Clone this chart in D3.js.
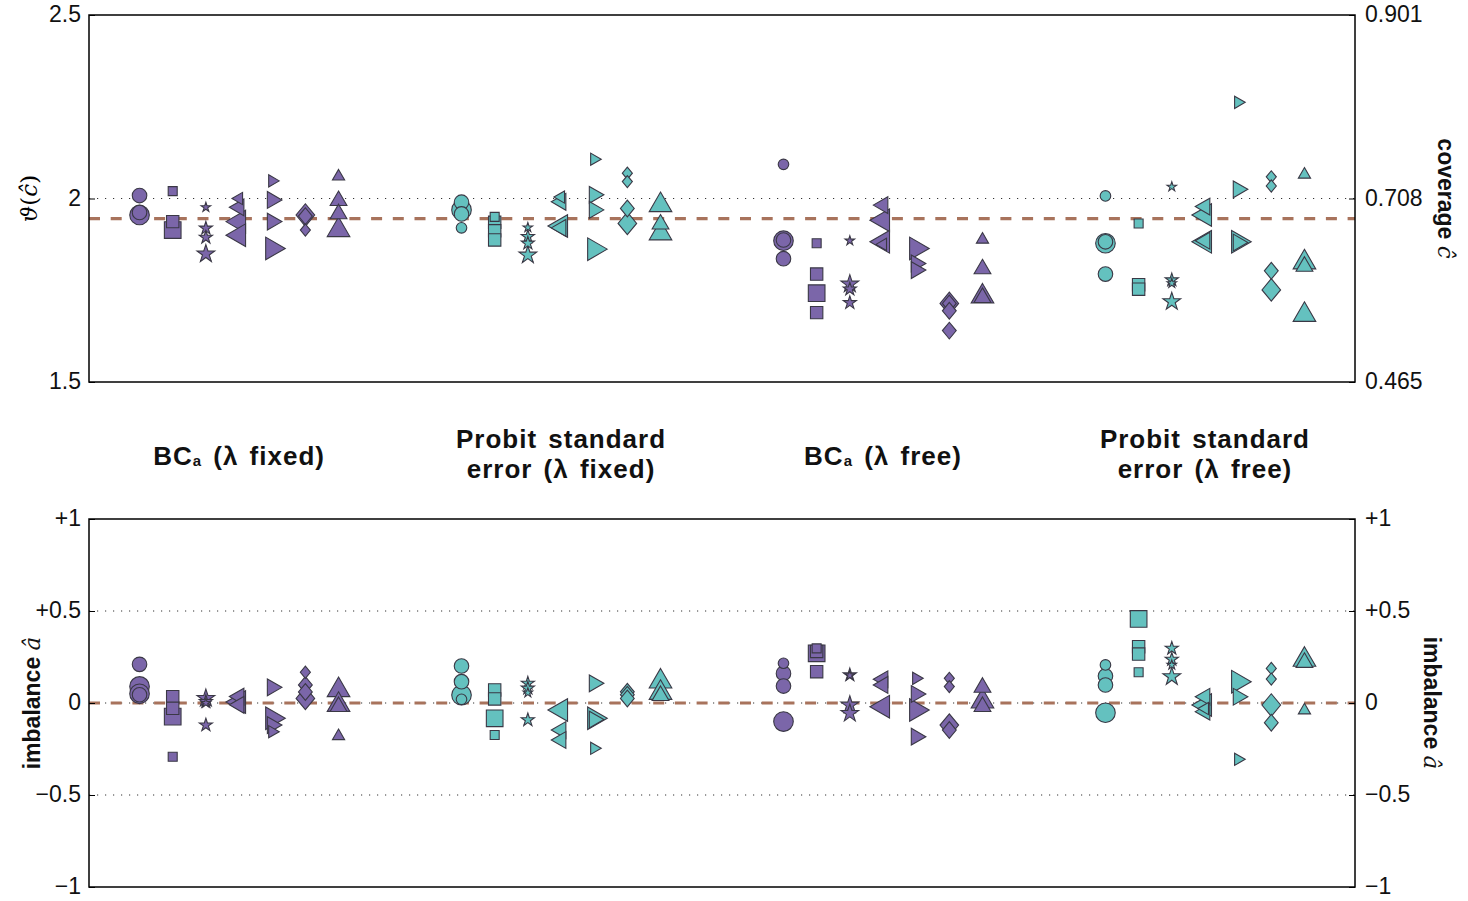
<!DOCTYPE html>
<html>
<head>
<meta charset="utf-8">
<script src="https://cdn.jsdelivr.net/npm/d3@7"></script>
<style>
  body { margin: 0; background: #fff; }
  .tick text { font-family: "Liberation Sans", sans-serif; font-size: 23px; fill: #111; }
  .title { font-family: "Liberation Sans", sans-serif; font-weight: bold; font-size: 26px; letter-spacing: 1px; word-spacing: 3px; fill: #111; }
  .axlabel { font-family: "Liberation Sans", sans-serif; font-weight: bold; font-size: 23px; fill: #111; }
</style>
</head>
<body>
<script>
// ----- data -----
const methods = ["BCa fixed", "Probit fixed", "BCa free", "Probit free"];
const shapes = ["circle", "square", "star", "triLeft", "triRight", "diamond", "triUp"];
const sizeClasses = ["s", "m", "l"];

// [shape, value, size class]  -- top panel, theta(c hat)
const thetaBcaFixed = [
  ["circle", 2.008, "m"], ["circle", 1.955, "l"], ["circle", 1.962, "m"],
  ["square", 2.02, "s"], ["square", 1.937, "m"], ["square", 1.914, "l"],
  ["star", 1.976, "s"], ["star", 1.919, "m"], ["star", 1.894, "m"], ["star", 1.849, "l"],
  ["triLeft", 2.0, "s"], ["triLeft", 1.976, "m"], ["triLeft", 1.937, "l"], ["triLeft", 1.90, "l"],
  ["triRight", 2.048, "s"], ["triRight", 1.996, "m"], ["triRight", 1.937, "m"], ["triRight", 1.864, "l"],
  ["diamond", 1.955, "l"], ["diamond", 1.952, "m"], ["diamond", 1.914, "s"],
  ["triUp", 2.06, "s"], ["triUp", 1.994, "m"], ["triUp", 1.958, "m"], ["triUp", 1.914, "l"]
];
const thetaProbitFixed = [
  ["circle", 1.990, "m"], ["circle", 1.969, "l"], ["circle", 1.958, "m"], ["circle", 1.920, "s"],
  ["square", 1.95, "s"], ["square", 1.935, "m"], ["square", 1.912, "m"], ["square", 1.887, "m"],
  ["star", 1.921, "s"], ["star", 1.896, "m"], ["star", 1.878, "m"], ["star", 1.846, "l"],
  ["triLeft", 2.004, "s"], ["triLeft", 1.991, "m"], ["triLeft", 1.925, "l"], ["triLeft", 1.92, "m"],
  ["triRight", 2.107, "s"], ["triRight", 2.010, "m"], ["triRight", 1.969, "m"], ["triRight", 1.862, "l"],
  ["diamond", 2.069, "s"], ["diamond", 2.046, "s"], ["diamond", 1.973, "m"], ["diamond", 1.932, "l"],
  ["triUp", 1.982, "l"], ["triUp", 1.93, "m"], ["triUp", 1.905, "l"]
];
const thetaBcaFree = [
  ["circle", 2.093, "s"], ["circle", 1.885, "l"], ["circle", 1.887, "m"], ["circle", 1.836, "m"],
  ["square", 1.878, "s"], ["square", 1.794, "m"], ["square", 1.742, "l"], ["square", 1.689, "m"],
  ["star", 1.885, "s"], ["star", 1.767, "l"], ["star", 1.753, "m"], ["star", 1.716, "m"],
  ["triLeft", 1.982, "m"], ["triLeft", 1.941, "l"], ["triLeft", 1.882, "l"], ["triLeft", 1.875, "s"],
  ["triRight", 1.864, "l"], ["triRight", 1.823, "m"], ["triRight", 1.805, "m"],
  ["diamond", 1.714, "l"], ["diamond", 1.714, "m"], ["diamond", 1.694, "m"], ["diamond", 1.640, "m"],
  ["triUp", 1.888, "s"], ["triUp", 1.808, "m"], ["triUp", 1.733, "l"], ["triUp", 1.73, "m"]
];
const thetaProbitFree = [
  ["circle", 2.007, "s"], ["circle", 1.878, "l"], ["circle", 1.882, "m"], ["circle", 1.794, "m"],
  ["square", 1.932, "s"], ["square", 1.765, "m"], ["square", 1.753, "m"],
  ["star", 2.032, "s"], ["star", 1.778, "m"], ["star", 1.769, "s"], ["star", 1.719, "l"],
  ["triLeft", 1.978, "m"], ["triLeft", 1.955, "l"], ["triLeft", 1.882, "l"], ["triLeft", 1.885, "m"],
  ["triRight", 2.262, "s"], ["triRight", 2.025, "m"], ["triRight", 1.882, "l"], ["triRight", 1.88, "m"],
  ["diamond", 2.059, "s"], ["diamond", 2.034, "s"], ["diamond", 1.803, "m"], ["diamond", 1.751, "l"],
  ["triUp", 2.065, "s"], ["triUp", 1.826, "l"], ["triUp", 1.815, "m"], ["triUp", 1.683, "l"]
];

// bottom panel, imbalance a hat
const imbBcaFixed = [
  ["circle", 0.21, "m"], ["circle", 0.09, "l"], ["circle", 0.05, "l"], ["circle", 0.045, "m"],
  ["square", 0.034, "m"], ["square", -0.029, "m"], ["square", -0.074, "l"], ["square", -0.292, "s"],
  ["star", 0.025, "l"], ["star", 0.007, "m"], ["star", 0.0, "s"], ["star", -0.12, "m"],
  ["triLeft", 0.035, "m"], ["triLeft", 0.005, "l"], ["triLeft", -0.01, "m"],
  ["triRight", 0.085, "m"], ["triRight", -0.083, "l"], ["triRight", -0.12, "m"], ["triRight", -0.156, "s"],
  ["diamond", 0.167, "s"], ["diamond", 0.098, "m"], ["diamond", 0.06, "m"], ["diamond", 0.025, "l"],
  ["triUp", 0.07, "l"], ["triUp", -0.01, "l"], ["triUp", -0.02, "m"], ["triUp", -0.18, "s"]
];
const imbProbitFixed = [
  ["circle", 0.201, "m"], ["circle", 0.116, "m"], ["circle", 0.043, "l"], ["circle", 0.02, "s"],
  ["square", 0.071, "m"], ["square", 0.022, "m"], ["square", -0.083, "l"], ["square", -0.174, "s"],
  ["star", 0.107, "m"], ["star", 0.080, "m"], ["star", 0.056, "s"], ["star", -0.092, "m"],
  ["triLeft", -0.038, "l"], ["triLeft", -0.147, "m"], ["triLeft", -0.201, "m"],
  ["triRight", 0.107, "m"], ["triRight", -0.083, "l"], ["triRight", -0.09, "m"], ["triRight", -0.246, "s"],
  ["diamond", 0.061, "m"], ["diamond", 0.045, "m"], ["diamond", 0.025, "m"],
  ["triUp", 0.117, "l"], ["triUp", 0.055, "l"], ["triUp", 0.04, "m"]
];
const imbBcaFree = [
  ["circle", 0.216, "s"], ["circle", 0.161, "m"], ["circle", 0.092, "m"], ["circle", -0.101, "l"],
  ["square", 0.297, "s"], ["square", 0.27, "l"], ["square", 0.28, "m"], ["square", 0.170, "m"],
  ["star", 0.152, "m"], ["star", 0.15, "s"], ["star", -0.011, "l"], ["star", -0.056, "l"],
  ["triLeft", 0.129, "m"], ["triLeft", 0.098, "m"], ["triLeft", -0.020, "l"],
  ["triRight", 0.134, "s"], ["triRight", 0.049, "m"], ["triRight", -0.038, "l"], ["triRight", -0.183, "m"],
  ["diamond", 0.134, "s"], ["diamond", 0.089, "s"], ["diamond", -0.120, "l"], ["diamond", -0.147, "m"],
  ["triUp", 0.085, "m"], ["triUp", 0.008, "l"], ["triUp", -0.02, "m"]
];
const imbProbitFree = [
  ["circle", 0.207, "s"], ["circle", 0.147, "m"], ["circle", 0.098, "m"], ["circle", -0.053, "l"],
  ["square", 0.457, "l"], ["square", 0.306, "m"], ["square", 0.266, "m"], ["square", 0.167, "s"],
  ["star", 0.297, "m"], ["star", 0.237, "m"], ["star", 0.207, "s"], ["star", 0.143, "l"],
  ["triLeft", 0.034, "m"], ["triLeft", -0.011, "l"], ["triLeft", -0.047, "m"], ["triLeft", -0.03, "s"],
  ["triRight", 0.116, "l"], ["triRight", 0.034, "m"], ["triRight", -0.306, "s"],
  ["diamond", 0.188, "s"], ["diamond", 0.130, "s"], ["diamond", -0.011, "l"], ["diamond", -0.107, "m"],
  ["triUp", 0.235, "l"], ["triUp", 0.22, "m"], ["triUp", -0.04, "s"]
];

const thetaSeries = [thetaBcaFixed, thetaProbitFixed, thetaBcaFree, thetaProbitFree];
const imbSeries = [imbBcaFixed, imbProbitFixed, imbBcaFree, imbProbitFree];

const thetaTicks = [1.5, 2, 2.5];
const coverageLabels = ["0.465", "0.708", "0.901"];
const thetaReference = 1.945;
const imbTicks = [-1, -0.5, 0, 0.5, 1];
const imbLabels = ["\u22121", "\u22120.5", "0", "+0.5", "+1"];
const imbReference = 0;

// ----- layout -----
const W = 1468, H = 901;
const left = 89, right = 1355;
const topPanel = [15, 382];
const botPanel = [519, 887];
const purple = "#7b66a9", teal = "#64c1bf", refColor = "#a8735c";

const svg = d3.select("body").append("svg")
    .attr("width", W)
    .attr("height", H);

const groupX = d3.scalePoint().domain(methods).range([left, right]).padding(0.466);
const shapeX = d3.scalePoint().domain(shapes).range([-99.5, 99.5]);
const colour = d3.scaleOrdinal().domain(methods).range([purple, teal, purple, teal]);
const sizeArea = d3.scaleOrdinal().domain(sizeClasses)
    .range([Math.PI * 28, Math.PI * 53, Math.PI * 96]);

// custom marker shapes (size is the area of the equivalent circle)
const rad = size => Math.sqrt(size / Math.PI);
function poly(ctx, pts) {
    ctx.moveTo(pts[0][0], pts[0][1]);
    for (let i = 1; i < pts.length; i++) ctx.lineTo(pts[i][0], pts[i][1]);
    ctx.closePath();
}
function triangle(angle) {
    return { draw(ctx, size) {
        const h = 2 * rad(size), b = h / Math.sqrt(3);
        const c = Math.cos(angle), s = Math.sin(angle);
        poly(ctx, [[0, -2 * h / 3], [b, h / 3], [-b, h / 3]]
            .map(([x, y]) => [x * c - y * s, x * s + y * c]));
    }};
}
const shapeTypes = {
    circle: { draw(ctx, size) { const r = rad(size); ctx.moveTo(r, 0); ctx.arc(0, 0, r, 0, 2 * Math.PI); } },
    square: { draw(ctx, size) { const r = rad(size) * 0.85; ctx.rect(-r, -r, 2 * r, 2 * r); } },
    star: { draw(ctx, size) {
        const R = rad(size) * 0.95, ri = R * 0.382, pts = [];
        for (let i = 0; i < 10; i++) {
            const a = -Math.PI / 2 + i * Math.PI / 5, rr = i % 2 ? ri : R;
            pts.push([rr * Math.cos(a), rr * Math.sin(a)]);
        }
        poly(ctx, pts);
    }},
    triLeft: triangle(-Math.PI / 2),
    triRight: triangle(Math.PI / 2),
    diamond: { draw(ctx, size) {
        const r = rad(size);
        poly(ctx, [[0, -1.15 * r], [0.95 * r, 0], [0, 1.15 * r], [-0.95 * r, 0]]);
    }},
    triUp: triangle(0)
};
const symbolGen = d3.symbol()
    .type(d => shapeTypes[d.shape])
    .size(d => sizeArea(d.size));

function drawPanel(range, y, ticks, leftFmt, rightFmt, gridVals, refValue, series) {
    const g = svg.append("g");

    // dotted grid lines
    g.selectAll(".grid")
        .data(gridVals)
        .enter()
        .append("line")
        .attr("x1", left).attr("x2", right)
        .attr("y1", d => y(d)).attr("y2", d => y(d))
        .attr("stroke", "#333")
        .attr("stroke-width", 1)
        .attr("stroke-dasharray", "1.2,6.8");

    // reference line
    g.append("line")
        .attr("x1", left).attr("x2", right)
        .attr("y1", y(refValue)).attr("y2", y(refValue))
        .attr("stroke", refColor)
        .attr("stroke-width", 3.2)
        .attr("stroke-dasharray", "11,10.7");

    // markers, biggest first so small ones stay on top
    const points = [];
    series.forEach((arr, i) => arr.forEach(p => points.push({
        method: methods[i], shape: p[0], value: p[1], size: p[2]
    })));
    points.sort((a, b) => sizeClasses.indexOf(b.size) - sizeClasses.indexOf(a.size));

    g.selectAll(".marker")
        .data(points)
        .enter()
        .append("path")
        .attr("class", "marker")
        .attr("transform", d => "translate(" + (groupX(d.method) + shapeX(d.shape)) + "," + y(d.value) + ")")
        .attr("d", symbolGen)
        .attr("fill", d => colour(d.method))
        .attr("stroke", "#3a3845")
        .attr("stroke-width", 1.1);

    // frame
    g.append("rect")
        .attr("x", left).attr("y", range[0])
        .attr("width", right - left).attr("height", range[1] - range[0])
        .attr("fill", "none")
        .attr("stroke", "#000")
        .attr("stroke-width", 1.5);

    // left and right axes, ticks pointing inwards
    const la = g.append("g")
        .attr("transform", "translate(" + left + ",0)")
        .call(d3.axisLeft(y).tickValues(ticks).tickSize(-6).tickPadding(8).tickFormat(leftFmt));
    const ra = g.append("g")
        .attr("transform", "translate(" + right + ",0)")
        .call(d3.axisRight(y).tickValues(ticks).tickSize(-6).tickPadding(10).tickFormat(rightFmt));
    [la, ra].forEach(a => {
        a.select(".domain").remove();
        a.attr("font-family", null).attr("font-size", null);
        a.selectAll(".tick text").attr("dy", "0.3em");
    });
}

const yTop = d3.scaleLinear().domain([1.5, 2.5]).range([topPanel[1], topPanel[0]]);
const yBot = d3.scaleLinear().domain([-1, 1]).range([botPanel[1], botPanel[0]]);

drawPanel(topPanel, yTop, thetaTicks,
    d => d3.format("")(d), (d, i) => coverageLabels[i],
    [2], thetaReference, thetaSeries);

drawPanel(botPanel, yBot, imbTicks,
    (d, i) => imbLabels[i], (d, i) => imbLabels[i],
    [-0.5, 0, 0.5], imbReference, imbSeries);

// ----- method titles -----
const titles = [
    [["BC", "a", " (\u03bb fixed)"]],
    [["Probit standard"], ["error (\u03bb fixed)"]],
    [["BC", "a", " (\u03bb free)"]],
    [["Probit standard"], ["error (\u03bb free)"]]
];
titles.forEach((lines, i) => {
    const x = groupX(methods[i]);
    lines.forEach((parts, j) => {
        const t = svg.append("text")
            .attr("class", "title")
            .attr("x", x)
            .attr("y", lines.length === 1 ? 465 : 448 + j * 30)
            .attr("text-anchor", "middle");
        if (parts.length === 3) {
            t.append("tspan").text(parts[0]);
            t.append("tspan").attr("font-size", "15px").attr("dy", 1).text(parts[1]);
            t.append("tspan").attr("dy", -1).text(parts[2]);
        } else {
            t.text(parts[0]);
        }
    });
});

// ----- axis labels -----
const thetaLabel = svg.append("text")
    .attr("transform", "translate(37," + yTop(2) + ") rotate(-90)")
    .attr("text-anchor", "middle")
    .attr("font-family", "'DejaVu Serif', serif")
    .attr("font-size", "23px");
thetaLabel.append("tspan").attr("font-style", "italic").text("\u03d1");
thetaLabel.append("tspan").text("(");
thetaLabel.append("tspan").attr("font-style", "italic").text("\u0109");
thetaLabel.append("tspan").text(")");

function sideLabel(word, hat, x, yc, angle) {
    const t = svg.append("text")
        .attr("class", "axlabel")
        .attr("transform", "translate(" + x + "," + yc + ") rotate(" + angle + ")")
        .attr("text-anchor", "middle");
    t.append("tspan").text(word + " ");
    t.append("tspan")
        .attr("font-family", "'DejaVu Serif', serif")
        .attr("font-style", "italic")
        .attr("font-weight", "normal")
        .text(hat);
}
sideLabel("coverage", "\u0109", 1438, (topPanel[0] + topPanel[1]) / 2, 90);
sideLabel("imbalance", "\u00e2", 40, yBot(0), -90);
sideLabel("imbalance", "\u00e2", 1424, yBot(0), 90);
</script>
</body>
</html>
